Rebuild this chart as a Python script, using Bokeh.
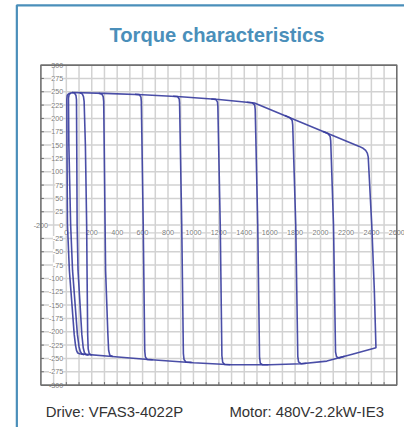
from bokeh.plotting import figure
from bokeh.models import Range1d
from bokeh.embed import file_html
from bokeh.resources import INLINE
from bokeh.core.properties import value

# ---------------- data (speed in min^-1, torque in %) ----------------
title_text = "Torque characteristics"
drive_text = "Drive: VFAS3-4022P"
motor_text = "Motor: 480V-2.2kW-IE3"

x_tick_labels = [0, 200, 400, 600, 800, 1000, 1200, 1400, 1600, 1800, 2000, 2200, 2400, 2600]
y_tick_labels = [300, 275, 250, 225, 200, 175, 150, 125, 100, 75, 50, 25, 0,
                 -25, -50, -75, -100, -125, -150, -175, -200, -225, -250, -275, -300]
x_grid = [-100, 0, 100, 200, 300, 400, 500, 600, 700, 800, 900, 1000, 1100, 1200, 1300,
          1400, 1500, 1600, 1700, 1800, 1900, 2000, 2100, 2200, 2300, 2400, 2500]
y_grid = [275, 250, 225, 200, 175, 150, 125, 100, 75, 50, 25, 0,
          -25, -50, -75, -100, -125, -150, -175, -200, -225, -250, -275]

# outer torque envelope (top limit, max-speed edge, bottom limit)
env_speed = [15, 50, 300, 600, 900, 1200, 1480, 1778, 2077, 2300, 2335, 2355, 2368, 2375,
             2403, 2423, 2436, 2250, 2050, 1850, 1600, 1300, 1000, 643, 337, 110]
env_torque = [246, 248.5, 247, 244.5, 240.5, 235.5, 229, 199.5, 170, 148, 144, 140, 135, 128,
              0, -121, -230, -242, -255, -260, -262, -262, -258, -252, -246, -241.5]

# individual speed-setpoint curves
c1_speed = [15, 7, 4, 5, 9, 24, 62, 72, 80, 90, 110]
c1_torque = [246, 243, 236, 150, 0, -85, -205, -225, -235, -240, -241.5]
c2_speed = [35, 22, 17, 20, 34, 49, 87, 100, 110, 122, 140]
c2_torque = [247.5, 245, 238, 150, 0, -85, -205, -228, -237, -241.5, -243]
c3_speed = [45, 65, 76, 80, 82, 85, 92, 122, 133, 142, 155, 175]
c3_torque = [248.5, 247.5, 243, 235, 150, 0, -85, -205, -230, -239, -243, -244]
c4_speed = [105, 125, 135, 140, 150, 160, 163, 168, 172, 180, 200]
c4_torque = [248, 246, 241, 232, 150, 0, -85, -205, -232, -241, -244]
c5_speed = [255, 280, 290, 294, 298, 305, 309, 327, 333, 342, 365]
c5_torque = [247.2, 245.5, 241, 232, 150, 0, -85, -205, -235, -244, -246.5]
c600_speed = [540, 575, 587, 590, 605, 617, 622, 635, 680]
c600_torque = [245.2, 244.6, 240, 232, 0, -236, -247, -251.8, -252.6]
c900_speed = [840, 875, 888, 891, 908, 921, 926, 940, 985]
c900_torque = [241.5, 241, 236.5, 229, 0, -241, -252, -256.7, -257.4]
c1200_speed = [1140, 1175, 1189, 1192, 1211, 1224, 1230, 1245, 1290]
c1200_torque = [236.5, 235.7, 231, 223, 0, -245, -257, -261.5, -262]
c1500_speed = [1420, 1462, 1482, 1486, 1506, 1520, 1526, 1545, 1590]
c1500_torque = [230.3, 229.5, 225, 217, 0, -247, -259, -262, -262]
c1800_speed = [1720, 1758, 1777, 1781, 1805, 1821, 1827, 1846, 1890]
c1800_torque = [205.3, 201.5, 196, 188, 0, -246, -256.5, -259.9, -259]
c2100_speed = [2020, 2058, 2076, 2080, 2102, 2118, 2126, 2145, 2190]
c2100_torque = [175.6, 171.8, 166, 158, 0, -238, -247, -249, -246]

curves_x = [env_speed, c1_speed, c2_speed, c3_speed, c4_speed, c5_speed, c600_speed,
            c900_speed, c1200_speed, c1500_speed, c1800_speed, c2100_speed]
curves_y = [env_torque, c1_torque, c2_torque, c3_torque, c4_torque, c5_torque, c600_torque,
            c900_torque, c1200_torque, c1500_torque, c1800_torque, c2100_torque]

# ---------------- layout ----------------
W, H = 404, 427
KX, KY = W / 420, H / 443                    # fit the 420x443 design into the canvas
FL, FR, FT, FB = 42 * KX, 412 * KX, 67 * KY, 399 * KY   # chart box (canvas px)
XMIN, XMAX, YMIN, YMAX = -200, 2600, -300, 300
sx = (FR - FL) / (XMAX - XMIN)
sy = (FB - FT) / (YMAX - YMIN)
x0 = XMIN - FL / sx
x1 = XMAX + (W - FR) / sx
y0 = YMIN - (H - FB) / sy
y1 = YMAX + FT / sy


def px_x(rx):
    return x0 + rx * KX / sx


def px_y(ry):
    return y1 - ry * KY / sy


p = figure(width=W, height=H, x_range=Range1d(x0, x1), y_range=Range1d(y0, y1),
           output_backend="svg", toolbar_location=None, x_axis_type=None, y_axis_type=None,
           min_border=0, title=None)
p.outline_line_color = None
p.background_fill_color = "white"
p.border_fill_color = "white"

GRID = "#d2d2d2"
FRAME = "#6f6f6f"
FONT = value("Liberation Sans")
TICK_FS = "7.2px"

# grid
p.segment(x0=x_grid, y0=[YMIN] * len(x_grid), x1=x_grid, y1=[YMAX] * len(x_grid),
          line_color=GRID, line_width=1.5)
p.segment(x0=[XMIN] * len(y_grid), y0=y_grid, x1=[XMAX] * len(y_grid), y1=y_grid,
          line_color=GRID, line_width=1.5)
# x label row line
lab_y = -14.5
p.line(x=[0, XMAX], y=[lab_y, lab_y], line_color=GRID, line_width=1.2)

# frame ticks
p.segment(x0=[XMIN] * len(y_grid), y0=y_grid, x1=[XMIN + 3 / sx] * len(y_grid), y1=y_grid,
          line_color=FRAME, line_width=1)
p.segment(x0=x_grid, y0=[YMIN] * len(x_grid), x1=x_grid, y1=[YMIN + 3 / sy] * len(x_grid),
          line_color=FRAME, line_width=1)

# tick labels
p.text(x=[0] * len(y_tick_labels), y=y_tick_labels, text=[str(v) for v in y_tick_labels],
       text_font=FONT, text_font_size=TICK_FS, text_color="#7a7a7a",
       text_align="right", text_baseline="middle", x_offset=-3,
       background_fill_color="white")
inner_x = x_tick_labels[:-1]
p.text(x=inner_x, y=[lab_y] * len(inner_x), text=[str(v) for v in inner_x],
       text_font=FONT, text_font_size=TICK_FS, text_color="#7a7a7a",
       text_align="center", text_baseline="middle", background_fill_color="white")
p.text(x=[x_tick_labels[-1]], y=[lab_y], text=[str(x_tick_labels[-1])],
       text_font=FONT, text_font_size=TICK_FS, text_color="#7a7a7a",
       text_align="right", text_baseline="middle", x_offset=8,
       background_fill_color="white")
p.text(x=[XMIN], y=[0], text=["-200"], text_font=FONT, text_font_size=TICK_FS,
       text_color="#7a7a7a", text_align="center", text_baseline="middle",
       background_fill_color="white")

# curves
p.multi_line(xs=curves_x, ys=curves_y, line_color="#3b3f9f", line_width=1.6, line_alpha=0.92)

# frame
p.quad(left=[XMIN], right=[XMAX], bottom=[YMIN], top=[YMAX], fill_color=None,
       line_color=FRAME, line_width=1.6)

# outer blue box
BLUE = "#4a8fba"
p.line(x=[px_x(17), px_x(17), x1], y=[y0, px_y(5), px_y(5)], line_color=BLUE, line_width=2.2)

# title and footer
p.text(x=[px_x(225)], y=[px_y(36)], text=[title_text], text_font=FONT, text_font_style="bold",
       text_font_size="20.2px", text_color=BLUE, text_align="center", text_baseline="alphabetic")
p.text(x=[px_x(47), px_x(238)], y=[px_y(427), px_y(427)], text=[drive_text, motor_text],
       text_font=FONT, text_font_size="14.9px", text_color="#333333",
       text_align="left", text_baseline="alphabetic")

open("out.html", "w").write(file_html(p, INLINE))
